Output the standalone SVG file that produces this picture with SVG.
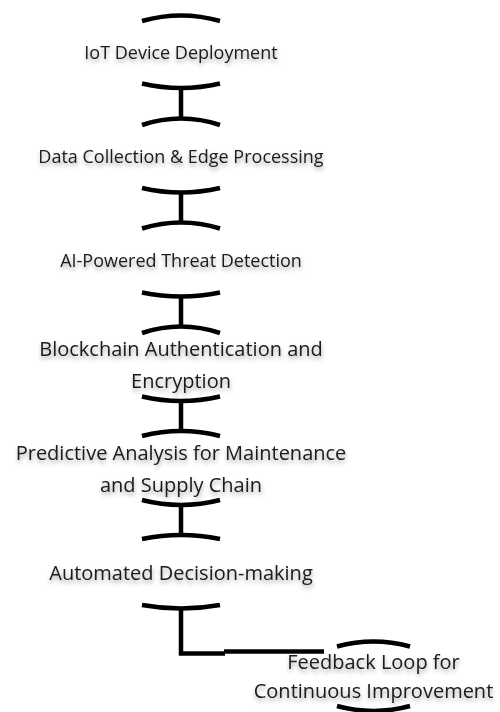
<svg xmlns="http://www.w3.org/2000/svg" width="500" height="712" viewBox="0 0 500 712">
<defs>
<filter id="sh" x="-10%" y="-40%" width="120%" height="180%">
<feDropShadow dx="0.5" dy="3" stdDeviation="2" flood-color="#000" flood-opacity="0.35"/>
</filter>
</defs>
<style>
.arc{fill:none;stroke:#000;stroke-width:4.5}
.edge{fill:none;stroke:#000;stroke-width:4.5}
.t{font-family:"Open Sans","Noto Sans",sans-serif;fill:#1a1a1a;text-anchor:middle;filter:url(#sh)}
.s18{font-size:18px}
.s20{font-size:20px}
</style>
<rect width="500" height="712" fill="#fff"/>
<g id="connectors">
<path class="edge" d="M181,88 V118.5"/>
<path class="edge" d="M181,192.5 V222.5"/>
<path class="edge" d="M181,296.5 V326.5"/>
<path class="edge" d="M181,401 V431.5"/>
<path class="edge" d="M181,505 V535"/>
<path class="edge" d="M181,608.5 V653.5 H225"/>
<path class="edge" d="M224,651.5 H324"/>
</g>
<g id="node1">
<path class="arc" d="M142,21 Q181,10 220,21"/>
<path class="arc" d="M142,83.5 Q181,92.5 220,83.5"/>
<text class="t s18" x="181" y="59">IoT Device Deployment</text>
</g>
<g id="node2">
<path class="arc" d="M142,125 Q181,112 220,125"/>
<path class="arc" d="M142,188 Q181,197 220,188"/>
<text class="t s18" x="181" y="162.5">Data Collection &amp; Edge Processing</text>
</g>
<g id="node3">
<path class="arc" d="M142,228.5 Q181,216.5 220,228.5"/>
<path class="arc" d="M142,292.5 Q181,300.5 220,292.5"/>
<text class="t s18" x="181" y="266.5">AI-Powered Threat Detection</text>
</g>
<g id="node4">
<path class="arc" d="M142,333 Q181,320 220,333"/>
<path class="arc" d="M142,396.5 Q181,405.5 220,396.5"/>
<text class="t s20" x="181" y="356">Blockchain Authentication and</text>
<text class="t s20" x="181" y="388">Encryption</text>
</g>
<g id="node5">
<path class="arc" d="M142,436 Q181,426 220,436"/>
<path class="arc" d="M142,500 Q181,510 220,500"/>
<text class="t s20" x="181" y="460">Predictive Analysis for Maintenance</text>
<text class="t s20" x="181" y="492">and Supply Chain</text>
</g>
<g id="node6">
<path class="arc" d="M142,539 Q181,531 220,539"/>
<path class="arc" d="M142,605 Q181,612 220,605"/>
<text class="t s20" x="181" y="580">Automated Decision-making</text>
</g>
<g id="node7">
<path class="arc" d="M337,646.5 Q373.5,636.5 410,646.5"/>
<path class="arc" d="M337,706 Q373.5,716 410,706"/>
<text class="t s20" x="373.5" y="669">Feedback Loop for</text>
<text class="t s20" x="373.5" y="698">Continuous Improvement</text>
</g>
</svg>
